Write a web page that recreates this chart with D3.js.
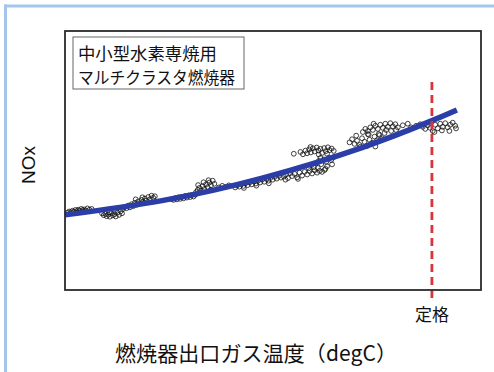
<!DOCTYPE html>
<html>
<head>
<meta charset="utf-8">
<script src="https://cdn.jsdelivr.net/npm/d3@7"></script>
<style>
  body { margin: 0; background: #fff; }
  svg { display: block; }
</style>
</head>
<body>
<svg width="494" height="372"></svg>
<script>
var width = 494;
var height = 372;

// measured samples: [gas temperature, NOx] (arbitrary units, no tick labels on original)
var samples = [
    [0.6,29.8],[1.0,30.3],[1.4,30.0],[1.8,30.6],[2.1,30.2],[2.5,30.9],[2.8,30.4],[3.2,31.0],[3.5,30.6],
    [3.9,31.3],[4.2,30.8],[4.6,31.1],[5.0,30.7],[5.4,31.5],[5.9,31.0],[6.4,31.3],[3.0,29.9],[4.4,30.2],
    [8.9,29.6],[9.3,28.9],[9.7,29.4],[10.0,28.5],[10.4,29.1],[10.8,28.3],[11.1,29.7],[11.5,28.8],
    [11.9,29.3],[12.2,28.4],[12.6,29.9],[13.0,29.0],[13.4,30.4],[13.7,29.6],[10.6,30.0],[12.0,30.6],
    [13.9,31.2],[14.3,32.0],[14.8,31.6],[15.2,32.6],[15.6,31.9],[16.0,33.1],[16.4,32.4],[16.8,33.7],
    [17.2,32.9],[17.6,34.2],[18.0,33.4],[18.4,34.8],[18.8,33.9],[19.2,35.3],[19.6,34.5],[20.0,35.9],
    [20.4,35.0],[20.8,36.4],[21.2,35.6],[21.6,36.2],[17.0,35.0],[18.6,35.8],
    [25.7,35.1],[26.1,34.8],[26.5,35.5],[26.9,35.0],[27.3,35.8],[27.7,35.2],[28.1,36.0],[28.5,35.4],
    [28.9,36.3],[29.3,35.7],[29.7,36.5],[30.1,35.9],[30.5,36.7],[30.9,36.1],[31.3,36.8],
    [31.5,37.8],[31.9,38.6],[32.3,39.4],[32.7,38.3],[33.1,40.1],[33.5,39.0],[33.9,40.8],[34.3,39.7],
    [34.7,41.5],[35.1,40.4],[35.5,42.2],[35.9,41.0],[33.3,41.6],[34.5,42.4],[32.0,40.5],[35.0,38.6],
    [37.0,39.6],[37.8,40.2],[38.6,39.8],[39.4,40.4],
    [40.9,39.6],[41.4,40.4],[41.9,39.9],[42.4,40.9],[42.9,40.2],[43.4,41.2],[43.9,40.5],[44.4,41.5],
    [44.9,40.8],[45.4,41.9],[45.9,41.1],[46.4,42.2],[46.9,41.5],[47.4,42.6],[47.9,41.8],[48.4,42.9],
    [48.9,42.2],[49.4,43.3],[49.9,42.6],[50.4,43.7],[50.9,43.0],[51.4,44.1],[51.9,43.4],[43.0,39.4],
    [46.0,40.3],[49.0,41.2],
    [52.6,43.8],[53.1,44.6],[53.6,43.2],[54.1,45.1],[54.6,44.0],[55.2,44.8],[55.8,43.5],[56.4,45.3],
    [57.0,44.2],[57.6,45.6],[58.2,44.6],[58.8,45.9],[59.4,45.0],[60.0,46.2],[60.6,45.3],[61.2,46.0],
    [61.8,45.6],[62.4,46.3],[53.0,42.6],[56.0,42.9],
    [58.6,47.0],[59.2,48.2],[59.8,47.4],[60.4,48.9],[61.0,49.8],[61.6,48.6],[62.2,50.4],[62.8,49.5],
    [63.4,51.0],[64.0,50.2],[64.6,51.3],[63.0,47.8],[64.2,48.5],[61.4,51.0],[62.6,46.8],[60.8,47.1],
    [56.6,53.3],[57.2,52.4],[57.8,53.8],[58.2,52.8],[58.7,54.3],[59.1,53.1],[59.6,54.7],[60.0,53.5],
    [60.5,55.0],[60.9,53.9],[61.4,54.5],[61.8,52.9],[62.3,54.8],[62.7,53.6],[63.2,55.1],[63.6,54.0],
    [64.1,54.6],[64.6,53.7],[59.0,55.2],[61.0,52.3],[63.0,52.6],[55.0,52.6],
    [68.4,57.0],[69.0,58.2],[69.6,56.4],[70.2,57.6],[70.8,56.0],[71.4,58.6],[72.0,57.2],[72.6,55.6],
    [73.2,58.0],[73.8,56.8],[74.4,59.2],[75.0,57.8],[75.6,59.8],[76.2,58.6],[70.0,59.6],[72.8,60.2],
    [74.6,55.4],[71.0,55.3],
    [71.6,61.0],[72.2,62.2],[72.8,61.4],[73.4,62.8],[74.0,61.8],[74.6,63.4],[75.2,62.2],[75.8,63.8],
    [76.4,62.6],[77.0,64.2],[77.6,63.0],[78.2,64.4],[78.8,63.2],[79.4,64.0],[80.0,62.8],[74.2,64.2],
    [76.8,60.6],[78.4,61.4],[75.4,60.2],[73.0,60.0],[79.6,61.8],[77.2,61.8],
    [81.2,63.6],[82.4,64.2],[83.2,62.8],[84.4,63.4],[85.4,64.0],
    [86.0,63.0],[86.6,62.2],[87.2,63.6],[87.8,62.6],[88.4,61.4],[89.0,63.8],[89.6,62.4],[90.2,64.2],
    [90.8,63.0],[91.4,64.4],[92.0,62.8],[92.6,63.8],[93.2,64.6],[93.8,63.4],[88.8,61.0],[90.6,61.6],
    [92.4,61.4],[94.0,62.4]
];

// regression curve
var fitTemp = [0, 23.3, 47.4, 71.4, 87.5, 94.2];
var fitNox = [29.0, 34.5, 43.2, 55.0, 64.9, 69.5];

// rated temperature marker
var ratedTemp = 88.2;
var ratedTop = 80.3;

var legendLines = ['中小型水素専焼用', 'マルチクラスタ燃焼器'];
var legendWidths = [139, 157];
var xTitle = '燃焼器出口ガス温度（degC）';
var yTitle = 'NOx';
var ratedLabel = '定格';

var margin = { left: 65, top: 31, right: 13, bottom: 82 };
var plotW = width - margin.left - margin.right;
var plotH = height - margin.top - margin.bottom;

var x = d3.scaleLinear().domain([0, 100]).range([0, plotW]);
var y = d3.scaleLinear().domain([0, 100]).range([plotH, 0]);

var svg = d3.select('svg');

// light blue page border (top + left)
svg.append('line')
    .attr('x1', 4).attr('x2', width).attr('y1', 6).attr('y2', 6)
    .attr('stroke', '#a3c6ea').attr('stroke-width', 3);
svg.append('line')
    .attr('x1', 5.5).attr('x2', 5.5).attr('y1', 4.5).attr('y2', height)
    .attr('stroke', '#a3c6ea').attr('stroke-width', 3);

var g = svg.append('g')
    .attr('transform', `translate(${margin.left},${margin.top})`);

g.append('g')
    .selectAll('circle')
    .data(samples)
    .enter().append('circle')
    .attr('cx', d => x(d[0]))
    .attr('cy', d => y(d[1]))
    .attr('r', 2.4)
    .attr('fill', 'none')
    .attr('stroke', '#151515')
    .attr('stroke-opacity', 0.9)
    .attr('stroke-width', 0.9);

var fit = fitTemp.map((t, i) => [t, fitNox[i]]);
g.append('path')
    .datum(fit)
    .attr('d', d3.line()
        .x(d => x(d[0]))
        .y(d => y(d[1]))
        .curve(d3.curveNatural))
    .attr('fill', 'none')
    .attr('stroke', '#2b3ea8')
    .attr('stroke-width', 5.5)
    .attr('stroke-linecap', 'butt');

g.append('line')
    .attr('x1', x(ratedTemp)).attr('x2', x(ratedTemp))
    .attr('y1', y(ratedTop)).attr('y2', plotH + 12)
    .attr('stroke', '#d8343a')
    .attr('stroke-width', 2.8)
    .attr('stroke-dasharray', '8,5');

g.append('text')
    .attr('x', x(ratedTemp))
    .attr('y', plotH + 31)
    .attr('text-anchor', 'middle')
    .attr('font-family', '"Noto Sans CJK JP"')
    .attr('font-size', 17)
    .attr('fill', '#111')
    .text(ratedLabel);

// plot frame
g.append('rect')
    .attr('width', plotW).attr('height', plotH)
    .attr('fill', 'none')
    .attr('stroke', '#2b2b2b')
    .attr('stroke-width', 1.8);

// legend box
var legend = svg.append('g').attr('transform', 'translate(73,37)');
legend.append('rect')
    .attr('width', 171).attr('height', 52)
    .attr('fill', '#fff')
    .attr('stroke', '#666')
    .attr('stroke-width', 1);
legend.selectAll('text')
    .data(legendLines)
    .enter().append('text')
    .attr('x', 5)
    .attr('y', (d, i) => 23 + i * 23.5)
    .attr('font-family', '"Noto Sans CJK JP"')
    .attr('font-size', 17)
    .attr('textLength', (d, i) => legendWidths[i])
    .attr('lengthAdjust', 'spacingAndGlyphs')
    .attr('fill', '#111')
    .text(d => d);

svg.append('text')
    .attr('x', 256)
    .attr('y', 361)
    .attr('text-anchor', 'middle')
    .attr('font-family', '"Noto Sans CJK JP"')
    .attr('font-size', 21)
    .attr('textLength', 282)
    .attr('fill', '#111')
    .text(xTitle);

svg.append('text')
    .attr('transform', 'translate(35,165) rotate(-90)')
    .attr('text-anchor', 'middle')
    .attr('font-family', '"Liberation Sans", Arial')
    .attr('font-size', 19)
    .attr('fill', '#111')
    .text(yTitle);
</script>
</body>
</html>
